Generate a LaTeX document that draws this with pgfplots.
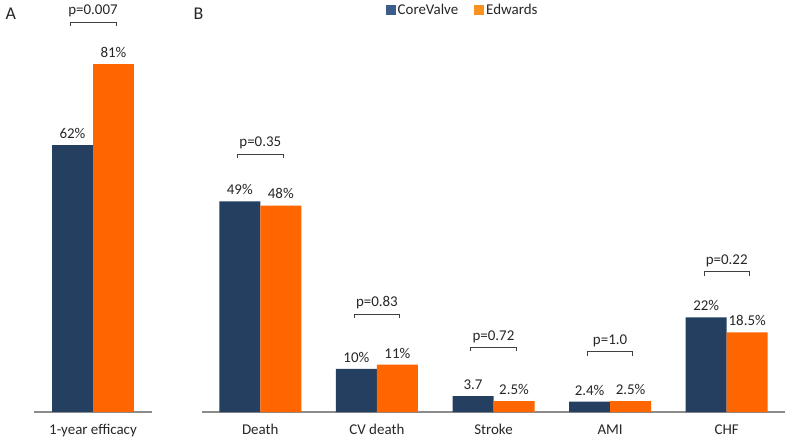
\documentclass[border=0pt]{standalone}
\usepackage{pgfplots}
\pgfplotsset{compat=1.18}
\usepackage{fontspec}
\setmainfont{Carlito}
\definecolor{cvblue}{HTML}{243F60}
\definecolor{edorange}{HTML}{FF6600}
\definecolor{legblue}{HTML}{3B5D89}
\definecolor{legorange}{HTML}{F7921E}
\definecolor{axgray}{HTML}{8C8C8C}
\definecolor{brk}{HTML}{404040}
\newcommand{\lbl}{\fontsize{15}{17}\selectfont}

\tikzset{
  br/.style={brk, line width=0.8pt},
  pv/.style={font=\lbl, text=black!85, anchor=base, yshift=7bp},
}
\pgfplotsset{
  panel/.style={
    scale only axis,
    height=387bp,
    ymin=0, ymax=90,
    ybar=0pt, bar width=41bp,
    axis x line=bottom,
    axis y line=none,
    axis line style={-, axgray, line width=1.2pt},
    xtick=data,
    major tick length=0pt,
    xticklabel style={font=\lbl, text=black!85, yshift=-9bp},
    clip=false,
    nodes near coords,
    point meta=explicit symbolic,
    every node near coord/.append style={font=\lbl, text=black!85, yshift=3bp},
  },
  cv/.style={fill=cvblue, draw=none},
  ed/.style={fill=edorange, draw=none},
}

\begin{document}
\begin{tikzpicture}
\path[use as bounding box] (0,0) rectangle (788bp,440bp);

% panel A
\begin{axis}[panel, at={(34bp,28bp)}, anchor=south west, width=118bp,
  xmin=-0.5, xmax=0.5, xticklabels={1-year efficacy}]
  \addplot[cv] coordinates {(0,62) [62\%]};
  \addplot[ed] coordinates {(0,81) [81\%]};
  \draw[br] (-0.195,89.8) -- (-0.195,90.7) -- (0.195,90.7) -- (0.195,89.8);
  \node[pv] at (0,90.7) {p=0.007};
\end{axis}

% panel B
\begin{axis}[panel, at={(202bp,28bp)}, anchor=south west, width=583bp,
  xmin=-0.5, xmax=4.5,
  xticklabels={Death, CV death, Stroke, AMI, CHF},
  legend style={at={(0.447,1.039)}, anchor=center, draw=none, fill=none,
    legend columns=2, font=\lbl, text=black!85,
    /tikz/every even column/.append style={column sep=14bp}},
  legend image code/.code={\fill[#1] (0bp,-5bp) rectangle (10bp,5bp);}]
  \addplot[cv, legend image post style={fill=legblue}] coordinates {(0,49) [49\%] (1,10) [10\%] (2,3.7) [3.7] (3,2.4) [2.4\%] (4,22) [22\%]};
  \addlegendentry{CoreValve}
  \addplot[ed, legend image post style={fill=legorange}] coordinates {(0,48) [48\%] (1,11) [11\%] (2,2.5) [2.5\%] (3,2.5) [2.5\%] (4,18.5) [18.5\%]};
  \addlegendentry{Edwards}
  \draw[br] (-0.195,59.1) -- (-0.195,60) -- (0.195,60) -- (0.195,59.1);
  \node[pv] at (0,60) {p=0.35};
  \draw[br] (0.805,21.9) -- (0.805,22.8) -- (1.195,22.8) -- (1.195,21.9);
  \node[pv] at (1,22.8) {p=0.83};
  \draw[br] (1.805,14.2) -- (1.805,15.1) -- (2.195,15.1) -- (2.195,14.2);
  \node[pv] at (2,15.1) {p=0.72};
  \draw[br] (2.805,13.1) -- (2.805,14.0) -- (3.195,14.0) -- (3.195,13.1);
  \node[pv] at (3,14.0) {p=1.0};
  \draw[br] (3.805,31.7) -- (3.805,32.6) -- (4.195,32.6) -- (4.195,31.7);
  \node[pv] at (4,32.6) {p=0.22};
\end{axis}

\node[anchor=base west, font=\fontsize{18}{20}\selectfont, text=black!85] at (2bp,420bp) {A};
\node[anchor=base west, font=\fontsize{18}{20}\selectfont, text=black!85] at (190bp,420bp) {B};
\end{tikzpicture}
\end{document}
